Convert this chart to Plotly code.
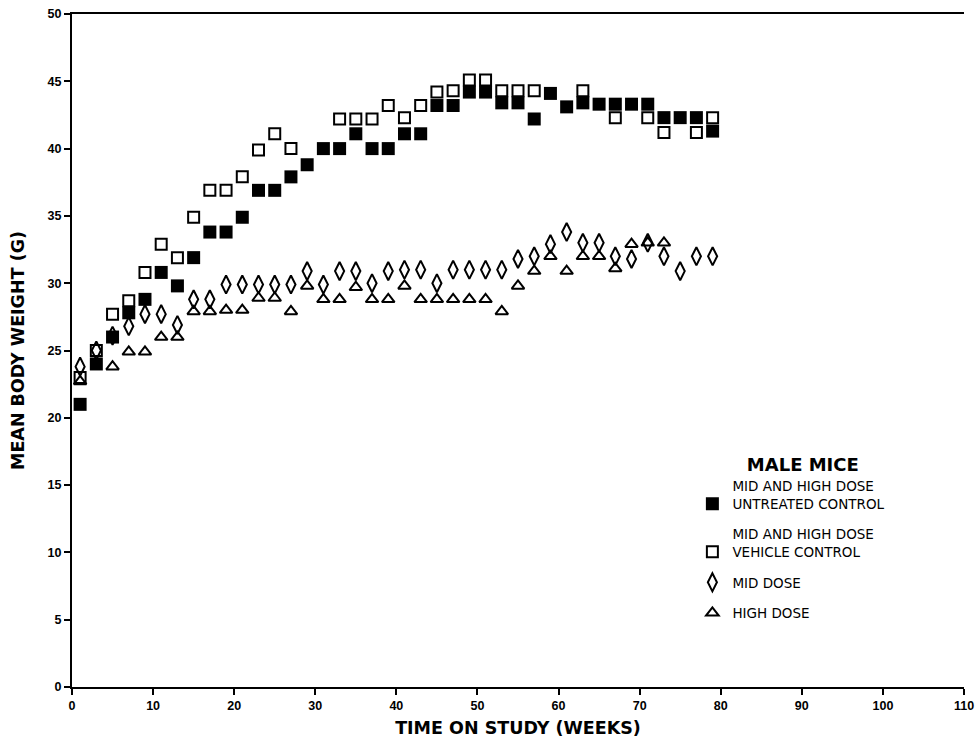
import plotly.graph_objects as go

weeks = list(range(1, 80, 2))  # 1, 3, ..., 79

untreated_control = [21.0, 24.0, 26.0, 27.8, 28.8, 30.8, 29.8, 31.9, 33.8, 33.8,
                     34.9, 36.9, 36.9, 37.9, 38.8, 40.0, 40.0, 41.1, 40.0, 40.0,
                     41.1, 41.1, 43.2, 43.2, 44.2, 44.2, 43.4, 43.4, 42.2, 44.1,
                     43.1, 43.4, 43.3, 43.3, 43.3, 43.3, 42.3, 42.3, 42.3, 41.3]

vehicle_control = [23.0, 25.0, 27.7, 28.7, 30.8, 32.9, 31.9, 34.9, 36.9, 36.9,
                   37.9, 39.9, 41.1, 40.0, None, None, 42.2, 42.2, 42.2, 43.2,
                   42.3, 43.2, 44.2, 44.3, 45.1, 45.1, 44.3, 44.3, 44.3, None,
                   None, 44.3, None, 42.3, None, 42.3, 41.2, None, 41.2, 42.3]

mid_dose = [23.8, 25.0, 26.1, 26.8, 27.7, 27.7, 26.9, 28.8, 28.8, 29.9,
            29.9, 29.9, 29.9, 29.9, 30.9, 29.9, 30.9, 30.9, 30.0, 30.9,
            31.0, 31.0, 30.0, 31.0, 31.0, 31.0, 31.0, 31.8, 32.0, 32.9,
            33.8, 33.0, 33.0, 32.0, 31.8, 33.0, 32.0, 30.9, 32.0, 32.0]

high_dose = [22.7, None, 23.8, 24.9, 24.9, 26.0, 26.0, 27.9, 27.9, 28.0,
             28.0, 28.9, 28.9, 27.9, 29.8, 28.8, 28.8, 29.7, 28.8, 28.8,
             29.8, 28.8, 28.8, 28.8, 28.8, 28.8, 27.9, 29.8, 30.9, 32.0,
             30.9, 32.0, 32.0, 31.1, 32.9, 33.0, 33.0, None, None, None]

x_ticks = [0, 10, 20, 30, 40, 50, 60, 70, 80, 90, 100, 110]
y_ticks = [0, 5, 10, 15, 20, 25, 30, 35, 40, 45, 50]

FONT = "Liberation Sans, Arial, Helvetica, sans-serif"
WIDE = "DejaVu Sans, Verdana, sans-serif"

fig = go.Figure()
fig.add_trace(go.Scatter(
    x=weeks, y=untreated_control, mode="markers",
    name="MID AND HIGH DOSE<br>UNTREATED CONTROL", legendgroup="a",
    marker=dict(symbol="square", size=13, color="black"),
))
fig.add_trace(go.Scatter(
    x=weeks, y=vehicle_control, mode="markers",
    name="MID AND HIGH DOSE<br>VEHICLE CONTROL", legendgroup="b",
    marker=dict(symbol="square-open", size=11, color="black", line=dict(width=2, color="black")),
))
fig.add_trace(go.Scatter(
    x=weeks, y=mid_dose, mode="markers",
    name="MID DOSE", legendgroup="c",
    marker=dict(symbol="diamond-tall-open", size=13, color="black", line=dict(width=2, color="black")),
))
fig.add_trace(go.Scatter(
    x=weeks, y=high_dose, mode="markers",
    name="HIGH DOSE", legendgroup="d",
    marker=dict(symbol="triangle-up-open", size=11, color="black", line=dict(width=2, color="black")),
))

fig.update_layout(
    width=978, height=743,
    margin=dict(l=72, r=14, t=14, b=56),
    paper_bgcolor="white", plot_bgcolor="white",
    font=dict(family=FONT, color="black"),
    showlegend=True,
    legend=dict(
        x=0.6955, y=0.356, xanchor="left", yanchor="top",
        bgcolor="rgba(0,0,0,0)",
        font=dict(size=13.5, family=WIDE, color="black"),
        title=dict(text="&nbsp;&nbsp;&nbsp;&nbsp;<b>MALE MICE</b>", side="top center",
                   font=dict(size=18, family=WIDE, color="black")),
        valign="bottom",
        itemwidth=30,
        traceorder="grouped",
        tracegroupgap=10,
    ),
    xaxis=dict(
        range=[0, 110], tickvals=x_ticks, automargin=False,
        showgrid=False, zeroline=False,
        showline=True, linewidth=2, linecolor="black", mirror=True,
        ticks="outside", ticklen=6, tickwidth=2, tickcolor="black",
        tickfont=dict(size=12.5, weight="bold", family=FONT),
        title=dict(text="<b>TIME ON STUDY (WEEKS)</b>", font=dict(size=17.5, family=WIDE), standoff=10),
    ),
    yaxis=dict(
        range=[0, 50], tickvals=y_ticks, automargin=False,
        showgrid=False, zeroline=False,
        showline=True, linewidth=2, linecolor="black",
        ticks="outside", ticklen=6, tickwidth=2, tickcolor="black",
        tickfont=dict(size=12.5, weight="bold", family=FONT),
        title=dict(text="<b>MEAN BODY WEIGHT (G)</b>", font=dict(size=17.5, family=WIDE), standoff=18),
    ),
)

fig.write_html("out.html")
